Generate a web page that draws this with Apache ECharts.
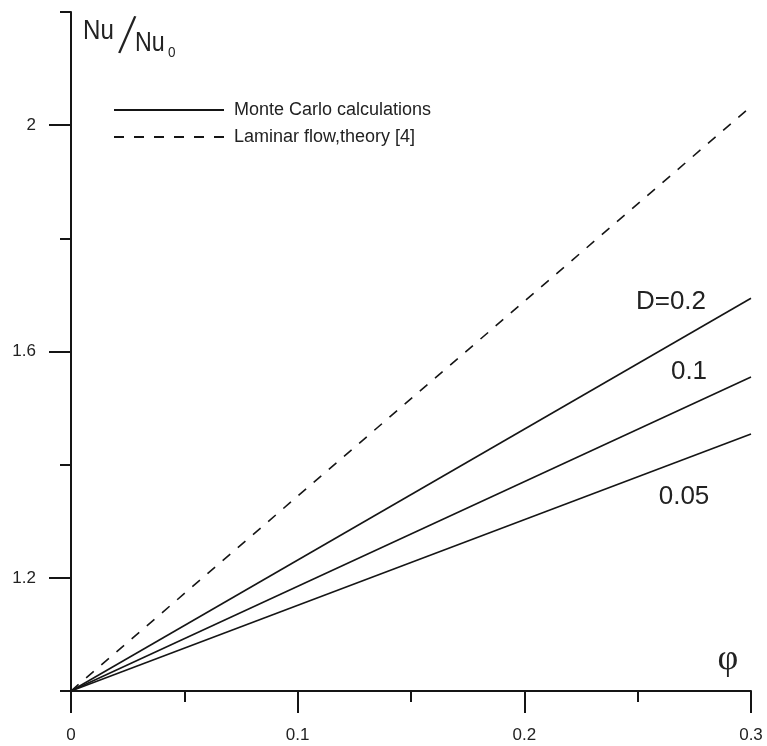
<!DOCTYPE html>
<html>
<head>
<meta charset="utf-8">
<script src="https://cdn.jsdelivr.net/npm/echarts@6/dist/echarts.min.js"></script>
<style>
  html, body { margin: 0; padding: 0; background: #fff; }
  #chart { width: 767px; height: 746px; }
</style>
</head>
<body>
<div id="chart"></div>
<script>
// Volume fraction φ and relative Nusselt number Nu/Nu0
const phi = [0, 0.3];
const nuD02 = [1.0, 1.694];
const nuD01 = [1.0, 1.555];
const nuD005 = [1.0, 1.454];
const nuLaminar = [1.0, 2.033];

// Axis ticks
const xMajorTicks = [0, 0.1, 0.2, 0.3];
const xMinorTicks = [0.05, 0.15, 0.25];
const yMajorTicks = [1.2, 1.6, 2.0];
const yMinorTicks = [1.0, 1.4, 1.8, 2.2];

const seriesNames = ['Monte Carlo calculations', 'Laminar flow,theory [4]'];
const curveLabels = ['D=0.2', '0.1', '0.05'];

const ink = '#151515';
const sans = 'Liberation Sans, Arial, sans-serif';
const pairs = ys => phi.map((x, i) => [x, ys[i]]);

const chart = echarts.init(document.getElementById('chart'), null, { renderer: 'canvas' });

const baseAxis = {
  type: 'value',
  splitLine: { show: false },
  axisLine: { show: true, onZero: false, lineStyle: { color: ink, width: 2 } }
};

const curve = (name, ys, dashed) => ({
  name: name, type: 'line', data: pairs(ys), symbol: 'none',
  itemStyle: { color: ink },
  lineStyle: { color: ink, width: 1.6, type: dashed ? [10, 10] : 'solid' }
});

chart.setOption({
  animation: false,
  backgroundColor: '#fff',
  grid: { left: 71, right: 16, top: 12, bottom: 55, containLabel: false, outerBoundsMode: 'none' },
  xAxis: [
    Object.assign({}, baseAxis, {
      min: 0, max: 0.3, position: 'bottom',
      axisTick: { show: true, customValues: xMajorTicks, length: 22, lineStyle: { color: ink, width: 2 } },
      axisLabel: { customValues: xMajorTicks, margin: 36, fontSize: 17, color: '#222', fontFamily: sans }
    }),
    Object.assign({}, baseAxis, {
      min: 0, max: 0.3, position: 'bottom', offset: 0,
      axisLine: { show: false },
      axisTick: { show: true, customValues: xMinorTicks, length: 11, lineStyle: { color: ink, width: 2 } },
      axisLabel: { show: false }
    })
  ],
  yAxis: [
    Object.assign({}, baseAxis, {
      min: 1.0, max: 2.2, position: 'left',
      axisTick: { show: true, customValues: yMajorTicks, length: 22, lineStyle: { color: ink, width: 2 } },
      axisLabel: { customValues: yMajorTicks, margin: 35, fontSize: 17, color: '#222', fontFamily: sans }
    }),
    Object.assign({}, baseAxis, {
      min: 1.0, max: 2.2, position: 'left', offset: 0,
      axisLine: { show: false },
      axisTick: { show: true, customValues: yMinorTicks, length: 11, lineStyle: { color: ink, width: 2 } },
      axisLabel: { show: false }
    })
  ],
  legend: {
    data: seriesNames,
    orient: 'vertical',
    left: 113, top: 101,
    padding: 0,
    itemWidth: 110, itemHeight: 14, itemGap: 9,
    itemStyle: { opacity: 0 },
    textStyle: { fontSize: 18, color: '#222', fontFamily: sans, padding: [0, 0, 0, 5] },
    selectedMode: false
  },
  series: [
    curve(seriesNames[0], nuD02),
    curve(seriesNames[0], nuD01),
    curve(seriesNames[0], nuD005),
    curve(seriesNames[1], nuLaminar, true)
  ],
  graphic: [
    // y-axis title Nu/Nu0
    { type: 'text', x: 83, y: 31, scaleX: 0.86, style: { text: 'Nu', fontSize: 28, fill: '#222', verticalAlign: 'middle', fontFamily: sans } },
    { type: 'text', x: 126, y: 39, scaleY: 1.8, rotation: -0.26, style: { text: '/', fontSize: 30, fill: '#222', align: 'center', verticalAlign: 'middle', fontFamily: sans } },
    { type: 'text', x: 135, y: 43.5, scaleX: 0.86, style: { text: 'Nu', fontSize: 27, fill: '#222', verticalAlign: 'middle', fontFamily: sans } },
    { type: 'text', x: 168, y: 53, scaleX: 0.9, style: { text: '0', fontSize: 15, fill: '#222', verticalAlign: 'middle', fontFamily: sans } },
    // x-axis title φ
    { type: 'text', x: 728, y: 660, style: { text: 'φ', fontSize: 36, fill: '#222', align: 'center', verticalAlign: 'middle', fontFamily: 'Liberation Serif, Times New Roman, serif' } },
    // curve parameter labels
    { type: 'text', x: 671, y: 302, style: { text: curveLabels[0], fontSize: 26, fill: '#222', align: 'center', verticalAlign: 'middle', fontFamily: sans } },
    { type: 'text', x: 689, y: 372, style: { text: curveLabels[1], fontSize: 26, fill: '#222', align: 'center', verticalAlign: 'middle', fontFamily: sans } },
    { type: 'text', x: 684, y: 497, style: { text: curveLabels[2], fontSize: 26, fill: '#222', align: 'center', verticalAlign: 'middle', fontFamily: sans } }
  ]
});
</script>
</body>
</html>
